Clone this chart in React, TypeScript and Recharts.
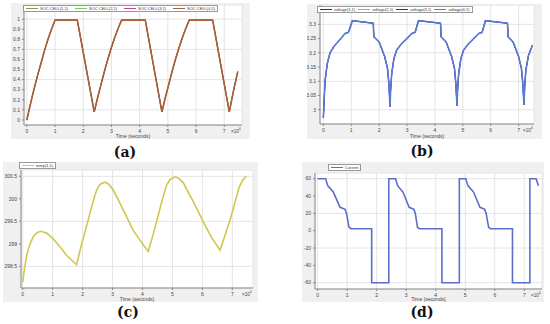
import React from 'react';
import { CartesianGrid, Line, LineChart, XAxis, YAxis } from 'recharts';

// time axis is in units of 10^4 seconds
const socTime = [
  0, 0.125, 0.25, 0.375, 0.5, 0.625, 0.75, 0.875, 1.0, 1.79,
  2.39, 2.51, 2.63, 2.75, 2.87, 2.99, 3.12, 3.24, 3.36, 4.2,
  4.79, 4.91, 5.03, 5.15, 5.27, 5.39, 5.52, 5.64, 5.76, 6.59,
  7.18, 7.33, 7.48,
];
const socValue = [
  0, 0.155, 0.3, 0.435, 0.56, 0.685, 0.8, 0.9, 0.99, 0.99,
  0.08, 0.22, 0.35, 0.48, 0.6, 0.71, 0.82, 0.91, 0.99, 0.99,
  0.08, 0.22, 0.35, 0.48, 0.6, 0.71, 0.82, 0.91, 0.99, 0.99,
  0.08, 0.29, 0.48,
];

const voltTime = [
  0, 0.06, 0.14, 0.24, 0.39, 0.6, 0.78, 0.9, 1.04, 1.79, 1.81, 2.0, 2.2, 2.3, 2.35, 2.39,
  2.41, 2.45, 2.53, 2.63, 2.81, 2.99, 3.17, 3.29, 3.41, 4.2, 4.22, 4.4, 4.6, 4.7, 4.75, 4.79,
  4.81, 4.85, 4.93, 5.03, 5.21, 5.39, 5.57, 5.69, 5.81, 6.6, 6.62, 6.8, 7.0, 7.1, 7.15, 7.19,
  7.22, 7.26, 7.35, 7.49,
];
const voltValue = [
  2.972, 3.1, 3.162, 3.2, 3.224, 3.247, 3.268, 3.272, 3.313, 3.304, 3.256, 3.238, 3.186, 3.145, 3.09, 3.012,
  3.068, 3.127, 3.18, 3.21, 3.233, 3.25, 3.268, 3.272, 3.313, 3.304, 3.256, 3.238, 3.186, 3.145, 3.09, 3.015,
  3.068, 3.127, 3.18, 3.21, 3.233, 3.25, 3.268, 3.272, 3.313, 3.304, 3.256, 3.238, 3.186, 3.145, 3.09, 3.018,
  3.09, 3.14, 3.19, 3.226,
];

const tempTime = [
  0, 0.06, 0.12, 0.18, 0.24, 0.36, 0.48, 0.6, 0.8, 1.02, 1.25, 1.47, 1.65, 1.8,
  1.95, 2.14, 2.3, 2.41, 2.5, 2.6, 2.75, 2.88, 3.03, 3.25, 3.47, 3.69, 3.95, 4.19,
  4.33, 4.47, 4.65, 4.8, 4.92, 5.08, 5.2, 5.36, 5.5, 5.7, 6.03, 6.3, 6.59,
  6.75, 6.92, 7.08, 7.23, 7.35, 7.47,
];
const tempValue = [
  298.15, 298.45, 298.7, 298.86, 298.99, 299.17, 299.25, 299.28, 299.24, 299.11, 298.93, 298.74, 298.63, 298.54,
  298.95, 299.41, 299.82, 300.08, 300.24, 300.33, 300.37, 300.32, 300.19, 299.9, 299.6, 299.3, 299.05, 298.83,
  299.15, 299.49, 299.95, 300.3, 300.43, 300.49, 300.46, 300.36, 300.18, 299.93, 299.49, 299.15, 298.86,
  299.18, 299.52, 299.9, 300.26, 300.42, 300.5,
];

const currentTime = [
  0, 0.27, 0.34, 0.53, 0.76, 0.93, 0.98, 1.06, 1.13, 1.83, 1.83, 2.41, 2.41, 2.64, 2.71, 2.89,
  3.1, 3.26, 3.31, 3.38, 3.44, 4.21, 4.21, 4.8, 4.8, 5.02, 5.09, 5.28, 5.5, 5.66, 5.71, 5.79,
  5.85, 6.6, 6.6, 7.19, 7.19, 7.4, 7.48,
];
const currentValue = [
  60, 60, 52, 44.6, 27, 24.6, 19.6, 4.2, 2.3, 2.3, -60, -60, 60, 60, 52, 44.6,
  27, 24.6, 19.6, 4.2, 2.3, 2.3, -60, -60, 60, 60, 52, 44.6, 27, 24.6, 19.6, 4.2,
  2.3, 2.3, -60, -60, 60, 60, 52,
];

const timeTicks = [0, 1, 2, 3, 4, 5, 6, 7];
const socTicks = [0, 0.1, 0.2, 0.3, 0.4, 0.5, 0.6, 0.7, 0.8, 0.9, 1];
const voltTicks = [3, 3.05, 3.1, 3.15, 3.2, 3.25, 3.3];
const tempTicks = [298.5, 299, 299.5, 300, 300.5];
const currentTicks = [-60, -40, -20, 0, 20, 40, 60];

const socLegend = ['SOC CELL(1,1)', 'SOC CELL(2,1)', 'SOC CELL(3,1)', 'SOC CELL(4,1)'];
const socColors = ['#8e9a3e', '#6fd24c', '#c2409e', '#a8603a'];
const voltLegend = ['voltage(1,1)', 'voltage(2,1)', 'voltage(3,1)', 'voltage(4,1)'];
const voltColors = ['#333333', '#86a6e6', '#5a2a2a', '#5b7ad6'];

const zip = (t: number[], v: number[]) => t.map((x, i) => ({ t: x, v: v[i] }));

const tickStyle = { fontSize: 5, fill: '#444', fontFamily: 'Liberation Sans, Arial, sans-serif' };

type PanelProps = {
  left: number;
  top: number;
  width: number;
  height: number;
  yAxisW: number;
  mTop: number;
  mRight: number;
  xAxisH: number;
  xDomain: [number, number];
  yDomain: [number, number];
  yTicks: number[];
  data: { t: number; v: number }[];
  colors: string[];
  legend: string[];
  legendColors: string[];
  legendLeft: number;
  legendTop: number;
  legendGap: number;
  caption: string;
  captionX: number;
  captionY: number;
};

function Panel(p: PanelProps) {
  const plotRight = p.width - p.mRight;
  const plotBottom = p.height - p.xAxisH;
  const last = p.colors.length - 1;
  return (
    <>
      <div style={{ position: 'absolute', left: p.left, top: p.top, width: p.width, height: p.height, background: '#f0f0f0' }}>
        <LineChart width={p.width} height={p.height} data={p.data} margin={{ top: p.mTop, right: p.mRight, bottom: 0, left: 0 }}>
          <CartesianGrid stroke="#e4e4e4" fill="#ffffff" />
          <XAxis
            dataKey="t"
            type="number"
            domain={p.xDomain}
            ticks={timeTicks}
            height={p.xAxisH}
            tick={tickStyle}
            tickSize={2}
            stroke="#888"
            allowDataOverflow
            label={{ value: 'Time (seconds)', position: 'insideBottom', offset: 1, fontSize: 5, fill: '#444' }}
          />
          <XAxis xAxisId="top" orientation="top" type="number" domain={p.xDomain} ticks={timeTicks} height={0} tick={false} stroke="#888" allowDataOverflow />
          <YAxis type="number" domain={p.yDomain} ticks={p.yTicks} width={p.yAxisW} tick={tickStyle} tickSize={2} stroke="#888" allowDataOverflow />
          <YAxis yAxisId="right" orientation="right" type="number" domain={p.yDomain} ticks={p.yTicks} width={0} tick={false} stroke="#888" allowDataOverflow />
          {p.colors.map((c, i) => (
            <Line
              key={i}
              dataKey="v"
              stroke={c}
              strokeWidth={i === last ? 1.6 : 1}
              dot={false}
              type="linear"
              isAnimationActive={false}
            />
          ))}
        </LineChart>
        <div style={{ position: 'absolute', left: plotRight - 11, top: plotBottom + 1, fontSize: 4.5, color: '#444', lineHeight: '6px' }}>
          ×10<sup style={{ fontSize: 3.5 }}>4</sup>
        </div>
        <div
          style={{
            position: 'absolute',
            left: p.legendLeft,
            top: p.legendTop,
            display: 'flex',
            gap: p.legendGap,
            alignItems: 'center',
            border: '1px solid #999',
            background: '#fff',
            padding: '0 2px',
            height: 5,
            fontSize: 4,
            lineHeight: '5px',
            color: '#333',
            whiteSpace: 'nowrap',
          }}
        >
          {p.legend.map((name, i) => (
            <span key={name} style={{ display: 'flex', alignItems: 'center', gap: 2 }}>
              <span style={{ display: 'inline-block', width: 12, height: 1, background: p.legendColors[i] }} />
              {name}
            </span>
          ))}
        </div>
      </div>
      <div
        style={{
          position: 'absolute',
          left: p.captionX - 20,
          width: 40,
          top: p.captionY - 7,
          height: 14,
          lineHeight: '14px',
          textAlign: 'center',
          fontFamily: 'DejaVu Serif, serif',
          fontSize: 14,
          fontWeight: 'bold',
          color: '#111',
        }}
      >
        {p.caption}
      </div>
    </>
  );
}

export default function App() {
  const fnt = 'Liberation Sans, Arial, sans-serif';
  return (
    <div style={{ position: 'absolute', left: 0, top: 0, width: 550, height: 324, background: '#fff', fontFamily: fnt, overflow: 'hidden' }}>
      <Panel
        left={11} top={3} width={239} height={136}
        yAxisW={13} mTop={2} mRight={8} xAxisH={14}
        xDomain={[-0.1, 7.63]} yDomain={[-0.05, 1.14]} yTicks={socTicks}
        data={zip(socTime, socValue)} colors={socColors}
        legend={socLegend} legendColors={socColors} legendLeft={12} legendTop={2} legendGap={7}
        caption="(a)" captionX={125} captionY={152}
      />
      <Panel
        left={307} top={4} width={235} height={135}
        yAxisW={13} mTop={1} mRight={8} xAxisH={15}
        xDomain={[-0.12, 7.55]} yDomain={[2.95, 3.368]} yTicks={voltTicks}
        data={zip(voltTime, voltValue)} colors={voltColors}
        legend={voltLegend} legendColors={voltColors} legendLeft={10} legendTop={2} legendGap={3}
        caption="(b)" captionX={422} captionY={151}
      />
      <Panel
        left={3} top={162} width={255} height={140}
        yAxisW={18} mTop={8} mRight={5} xAxisH={14}
        xDomain={[-0.057, 7.69]} yDomain={[298.02, 300.64]} yTicks={tempTicks}
        data={zip(tempTime, tempValue)} colors={['#d2c64e']}
        legend={['temp(1,1)']} legendColors={['#d2c64e']} legendLeft={16} legendTop={0} legendGap={3}
        caption="(c)" captionX={128} captionY={312}
      />
      <Panel
        left={302} top={162} width={242} height={140}
        yAxisW={13} mTop={11} mRight={2} xAxisH={13}
        xDomain={[-0.09, 7.6]} yDomain={[-67.3, 66.6]} yTicks={currentTicks}
        data={zip(currentTime, currentValue)} colors={['#5c6ec8']}
        legend={['Current']} legendColors={['#5c6ec8']} legendLeft={26} legendTop={2} legendGap={3}
        caption="(d)" captionX={422} captionY={312}
      />
    </div>
  );
}
